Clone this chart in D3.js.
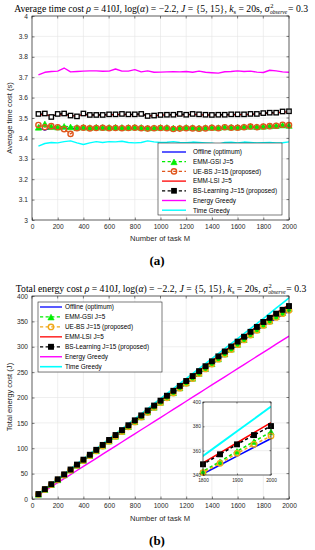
<!DOCTYPE html>
<html><head><meta charset="utf-8">
<script src="https://cdn.jsdelivr.net/npm/d3@7"></script>
<style>body{margin:0;background:#fff}svg{display:block}</style>
</head><body>
<svg id="c" width="315" height="550"></svg>
<script>
// ---------------- DATA ----------------
const taskM = [50,100,150,200,250,300,350,400,450,500,550,600,650,700,750,800,850,900,950,1000,
  1050,1100,1150,1200,1250,1300,1350,1400,1450,1500,1550,1600,1650,1700,1750,1800,1850,1900,1950,2000];
const seriesNames = ["Offline (optimum)","EMM-GSI J=5","UE-BS J=15 (proposed)","EMM-LSI J=5",
  "BS-Learning J=15 (proposed)","Energy Greedy","Time Greedy"];

// (a) average time cost (s)
const timeOffline = [3.452,3.44,3.452,3.45,3.448,3.45,3.447,3.449,3.447,3.45,3.449,3.448,3.449,3.448,3.449,3.45,3.449,3.447,3.447,3.448,
  3.449,3.445,3.447,3.448,3.448,3.446,3.448,3.449,3.449,3.452,3.45,3.451,3.452,3.455,3.453,3.455,3.457,3.458,3.46,3.46];
const timeEmmGsi = [3.455,3.472,3.458,3.456,3.46,3.457,3.455,3.456,3.454,3.456,3.455,3.455,3.456,3.455,3.455,3.456,3.455,3.452,3.453,3.455,
  3.455,3.452,3.453,3.455,3.454,3.452,3.454,3.455,3.454,3.457,3.456,3.456,3.458,3.46,3.458,3.46,3.462,3.463,3.466,3.464];
const timeUeBs = [3.466,3.455,3.46,3.455,3.445,3.422,3.45,3.452,3.449,3.451,3.452,3.45,3.451,3.45,3.451,3.452,3.45,3.448,3.45,3.451,
  3.45,3.446,3.448,3.45,3.449,3.447,3.449,3.452,3.45,3.455,3.452,3.452,3.455,3.458,3.455,3.458,3.46,3.462,3.467,3.465];
const timeEmmLsi = [3.517,3.516,3.51,3.515,3.517,3.512,3.51,3.516,3.514,3.515,3.514,3.516,3.517,3.518,3.516,3.517,3.518,3.512,3.511,3.514,
  3.515,3.515,3.517,3.515,3.518,3.516,3.515,3.514,3.515,3.515,3.516,3.517,3.517,3.518,3.519,3.522,3.524,3.525,3.529,3.53];
const timeBsLearning = [3.52,3.522,3.505,3.52,3.522,3.512,3.508,3.522,3.515,3.515,3.515,3.518,3.518,3.52,3.518,3.518,3.52,3.51,3.512,3.515,
  3.516,3.516,3.52,3.516,3.52,3.518,3.516,3.515,3.516,3.516,3.518,3.518,3.518,3.52,3.52,3.524,3.526,3.526,3.532,3.533];
const timeEnergyGreedy = [3.711,3.724,3.728,3.73,3.745,3.726,3.728,3.73,3.731,3.731,3.729,3.73,3.74,3.73,3.73,3.737,3.726,3.731,3.724,3.725,
  3.726,3.727,3.726,3.728,3.724,3.73,3.724,3.722,3.72,3.727,3.728,3.731,3.728,3.73,3.725,3.723,3.734,3.731,3.726,3.724];
const timeTimeGreedy = [3.362,3.375,3.38,3.378,3.384,3.388,3.378,3.37,3.378,3.384,3.38,3.384,3.383,3.386,3.38,3.378,3.38,3.388,3.383,3.38,
  3.381,3.384,3.38,3.379,3.382,3.38,3.378,3.376,3.372,3.38,3.381,3.378,3.382,3.38,3.378,3.379,3.38,3.378,3.379,3.383];
const timeXTicks = [0,200,400,600,800,1000,1200,1400,1600,1800,2000];
const timeYTicks = [3,3.1,3.2,3.3,3.4,3.5,3.6,3.7,3.8,3.9,4];

// (b) total energy cost (J)
const energyOffline = [9.2,18.7,28.2,37.6,47.1,56.6,66.1,75.6,85.0,94.5,104.0,113.5,123.0,132.4,141.9,151.4,160.9,170.4,179.8,189.3,
  198.8,208.3,217.8,227.2,236.7,246.2,255.7,265.2,274.6,284.1,293.6,303.1,312.6,322.0,331.5,341.0,348.2,355.5,362.8,370.0];
const energyEmmGsi = [9.4,18.9,28.5,38.0,47.5,57.1,66.6,76.1,85.6,95.2,104.7,114.2,123.8,133.3,142.8,152.4,161.9,171.4,180.9,190.5,
  200.0,209.5,219.1,228.6,238.1,247.7,257.2,266.7,276.2,285.8,295.3,304.8,314.4,323.9,333.4,343.0,351.0,359.5,367.5,375.5];
const energyUeBs = [9.3,18.8,28.3,37.8,47.3,56.8,66.3,75.8,85.3,94.9,104.4,113.9,123.4,132.9,142.4,151.9,161.4,170.9,180.4,189.9,
  199.4,208.9,218.4,227.9,237.4,246.9,256.4,266.0,275.5,285.0,294.5,304.0,313.5,323.0,332.5,342.0,349.6,357.8,365.2,372.0];
const energyEmmLsi = [9.8,19.5,29.2,39.0,48.7,58.4,68.1,77.8,87.6,97.3,107.0,116.7,126.4,136.2,145.9,155.6,165.3,175.0,184.8,194.5,
  204.2,213.9,223.6,233.4,243.1,252.8,262.5,272.2,282.0,291.7,301.4,311.1,320.8,330.6,340.3,350.0,358.2,366.5,374.8,383.0];
const energyBsLearning = [9.7,19.4,29.1,38.8,48.5,58.1,67.8,77.5,87.2,96.9,106.6,116.3,126.0,135.7,145.3,155.0,164.7,174.4,184.1,193.8,
  203.5,213.2,222.9,232.5,242.2,251.9,261.6,271.3,281.0,290.7,300.4,310.1,319.7,329.4,339.1,348.8,357.0,365.2,372.8,380.2];
const energyEnergyGreedy = [8.0,16.0,24.1,32.1,40.1,48.1,56.2,64.2,72.2,80.2,88.3,96.3,104.3,112.3,120.4,128.4,136.4,144.4,152.5,160.5,
  168.5,176.5,184.6,192.6,200.6,208.7,216.7,224.7,232.7,240.8,248.8,256.8,264.8,272.9,280.9,288.9,296.9,305.0,313.0,321.0];
const energyTimeGreedy = [9.9,19.8,29.7,39.5,49.4,59.3,69.2,79.0,88.9,98.8,108.7,118.5,128.4,138.3,148.2,158.1,167.9,177.8,187.7,197.6,
  207.4,217.3,227.2,237.1,246.9,256.8,266.7,276.6,286.4,296.3,306.2,316.1,326.0,335.8,345.7,355.6,365.8,375.9,386.0,396.2];
const energyXTicks = [0,200,400,600,800,1000,1200,1400,1600,1800,2000];
const energyYTicks = [0,50,100,150,200,250,300,350,400];
const insetXTicks = [1800,1900,2000];
const insetYTicks = [340,360,380,400];

// ---------------- DRAWING ----------------
const SANS = "'Liberation Sans', Arial, Helvetica, sans-serif";
const SERIF = "'Liberation Serif', 'Times New Roman', serif";
const AX = "#262626";
const svg = d3.select("#c");

function drawMarker(g, type, cx, cy, st) {
  if (type === "tri") {
    const s = st.ms;
    g.append("path").attr("d", `M0,${-s}L${s*0.95},${s*0.72}L${-s*0.95},${s*0.72}Z`).attr("transform", `translate(${cx},${cy+0.6})`)
      .attr("fill", st.mf).attr("stroke", st.mc).attr("stroke-width", 0.6);
  } else if (type === "circ") {
    g.append("circle").attr("cx", cx).attr("cy", cy).attr("r", st.ms)
      .attr("fill", st.mf).attr("stroke", st.mc).attr("stroke-width", 1.4);
  } else if (type === "sq") {
    const s = st.ms;
    g.append("rect").attr("x", cx - s/2).attr("y", cy - s/2).attr("width", s).attr("height", s)
      .attr("fill", st.mf).attr("stroke", st.mc).attr("stroke-width", 1.3);
  }
}

function panel(o) {
  const g = svg.append("g");
  const x = d3.scaleLinear().domain(o.xd).range([o.l, o.r]);
  const y = d3.scaleLinear().domain(o.yd).range([o.b, o.t]);
  g.append("rect").attr("x", o.l).attr("y", o.t).attr("width", o.r - o.l).attr("height", o.b - o.t).attr("fill", "#fff");
  const grid = g.append("g").attr("stroke", "#e4e4e4").attr("stroke-width", 0.6);
  o.xTicks.forEach(v => grid.append("line").attr("x1", x(v)).attr("x2", x(v)).attr("y1", o.t).attr("y2", o.b));
  o.yTicks.forEach(v => grid.append("line").attr("y1", y(v)).attr("y2", y(v)).attr("x1", o.l).attr("x2", o.r));
  const cid = "clip" + o.id;
  g.append("clipPath").attr("id", cid).append("rect").attr("x", o.l).attr("y", o.t - 1)
    .attr("width", o.r - o.l).attr("height", o.b - o.t + 1);
  const pg = g.append("g").attr("clip-path", `url(#${cid})`);
  const mg = g.append("g");
  o.series.forEach(s => {
    const line = d3.line().x((d, i) => x(taskM[i])).y(d => y(d));
    pg.append("path").datum(s.v).attr("d", line).attr("fill", "none").attr("stroke", s.c)
      .attr("stroke-width", s.w * (o.lw || 1)).attr("stroke-dasharray", s.dash ? "3.2,2.4" : null).attr("stroke-linejoin", "round");
    if (s.m) {
      const msub = mg.append("g");
      s.v.forEach((d, i) => {
        if (taskM[i] < o.xd[0] || taskM[i] > o.xd[1]) return;
        drawMarker(msub, s.m, x(taskM[i]), y(d), s);
      });
    }
  });
  const fs = o.fs;
  const xa = g.append("g").attr("transform", `translate(0,${o.b})`)
    .call(d3.axisBottom(x).tickValues(o.xTicks).tickSize(-o.tk).tickPadding(o.xpad).tickFormat(d3.format("d")));
  const ya = g.append("g").attr("transform", `translate(${o.l},0)`)
    .call(d3.axisLeft(y).tickValues(o.yTicks).tickSize(-o.tk).tickPadding(o.ypad).tickFormat(d => String(d)));
  [xa, ya].forEach(a => {
    a.select(".domain").remove();
    a.selectAll("line").attr("stroke", AX).attr("stroke-width", 0.6);
    a.selectAll("text").attr("fill", AX).attr("font-family", SANS).attr("font-size", fs);
  });
  o.xTicks.forEach(v => g.append("line").attr("x1", x(v)).attr("x2", x(v)).attr("y1", o.t).attr("y2", o.t + o.tk).attr("stroke", AX).attr("stroke-width", 0.6));
  o.yTicks.forEach(v => g.append("line").attr("y1", y(v)).attr("y2", y(v)).attr("x1", o.r).attr("x2", o.r - o.tk).attr("stroke", AX).attr("stroke-width", 0.6));
  g.append("rect").attr("x", o.l).attr("y", o.t).attr("width", o.r - o.l).attr("height", o.b - o.t)
    .attr("fill", "none").attr("stroke", AX).attr("stroke-width", 0.7);
  return g;
}

function legend(o, series) {
  const g = svg.append("g");
  g.append("rect").attr("x", o.x0).attr("y", o.y0).attr("width", o.x1 - o.x0).attr("height", o.y1 - o.y0)
    .attr("fill", "#fff").attr("stroke", AX).attr("stroke-width", 0.6);
  series.forEach((s, i) => {
    const yy = o.yStart + i * o.step;
    g.append("line").attr("x1", o.lx0).attr("x2", o.lx1).attr("y1", yy).attr("y2", yy)
      .attr("stroke", s.c).attr("stroke-width", s.w).attr("stroke-dasharray", s.dash ? "3.2,2.4" : null);
    if (s.m) drawMarker(g, s.m, (o.lx0 + o.lx1) / 2, yy, Object.assign({}, s, s.m === "sq" ? { mf: "#000" } : {}));
    g.append("text").attr("x", o.tx).attr("y", yy + 2.3).attr("font-family", SANS).attr("font-size", o.fs)
      .attr("fill", "#000").text(seriesNames[i]);
  });
}

function title(yb, text0) {
  const fs = 9.7;
  const t = svg.append("text").attr("y", yb).attr("font-family", SERIF).attr("font-size", fs).attr("fill", "#000");
  t.append("tspan").text(text0 + " ");
  t.append("tspan").attr("font-style", "italic").text("ρ");
  t.append("tspan").text(" = 410J, log(");
  t.append("tspan").attr("font-style", "italic").text("α");
  t.append("tspan").text(") = −2.2, ");
  t.append("tspan").attr("font-style", "italic").text("J");
  t.append("tspan").text(" = {5, 15}, ");
  t.append("tspan").attr("font-style", "italic").text("k");
  t.append("tspan").attr("font-size", 6.4).attr("dy", 1.8).text("s");
  t.append("tspan").attr("dy", -1.8).text(" = 20s, ");
  t.append("tspan").attr("font-style", "italic").text("σ");
  const w1 = t.node().getComputedTextLength();
  const sup = svg.append("text").attr("y", yb - 3.6).attr("font-family", SERIF).attr("font-size", 6.4).text("2");
  const sub = svg.append("text").attr("y", yb + 2.3).attr("font-family", SERIF).attr("font-size", 5.6)
    .attr("font-style", "italic").text("observe");
  const ws = sub.node().getComputedTextLength();
  const tail = svg.append("text").attr("y", yb).attr("font-family", SERIF).attr("font-size", fs).text(" = 0.3");
  const wt = tail.node().getComputedTextLength();
  const total = w1 + ws + 1 + wt;
  const x0 = 161 - total / 2;
  t.attr("x", x0);
  sup.attr("x", x0 + w1 + 0.8);
  sub.attr("x", x0 + w1 + 0.5);
  tail.attr("x", x0 + w1 + ws + 1.2);
}

const styleA = [
  { v: timeOffline, c: "#0000ff", w: 1.3 },
  { v: timeEmmGsi, c: "#00ee00", w: 1.3, dash: true, m: "tri", ms: 3.3, mf: "#00ee00", mc: "#00ee00" },
  { v: timeUeBs, c: "#e0561c", w: 1.3, dash: true, m: "circ", ms: 2.6, mf: "none", mc: "#e0561c" },
  { v: timeEmmLsi, c: "#ff0000", w: 1.3 },
  { v: timeBsLearning, c: "#000", w: 1.3, dash: true, m: "sq", ms: 4.4, mf: "#fff", mc: "#000" },
  { v: timeEnergyGreedy, c: "#ff00ff", w: 1.4 },
  { v: timeTimeGreedy, c: "#00ffff", w: 1.4 }
];
const styleB = [
  { v: energyOffline, c: "#0000ff", w: 1.3 },
  { v: energyEmmGsi, c: "#00ee00", w: 1.3, dash: true, m: "tri", ms: 3.3, mf: "#00ee00", mc: "#00ee00" },
  { v: energyUeBs, c: "#f0a818", w: 1.3, dash: true, m: "circ", ms: 2.7, mf: "none", mc: "#f0a818" },
  { v: energyEmmLsi, c: "#ff0000", w: 1.3 },
  { v: energyBsLearning, c: "#000", w: 1.3, dash: true, m: "sq", ms: 4.6, mf: "#000", mc: "#000" },
  { v: energyEnergyGreedy, c: "#ff00ff", w: 1.4 },
  { v: energyTimeGreedy, c: "#00ffff", w: 1.6 }
];

// ---- panel (a)
title(12, "Average time cost");
panel({ id: "a", l: 32, r: 289, t: 16, b: 220, xd: [0, 2000], yd: [3, 4], xTicks: timeXTicks, yTicks: timeYTicks,
  series: styleA, fs: 6.6, tk: 2.5, xpad: 4, ypad: 4 });
legend({ x0: 158, x1: 282, y0: 143, y1: 215, yStart: 152, step: 9.7, lx0: 162, lx1: 186, tx: 193, fs: 6.4 }, styleA);
svg.append("text").attr("x", 160).attr("y", 241).attr("text-anchor", "middle").attr("font-family", SANS)
  .attr("font-size", 7.6).attr("fill", AX).text("Number of task M");
svg.append("text").attr("transform", "translate(12,118) rotate(-90)").attr("text-anchor", "middle")
  .attr("font-family", SANS).attr("font-size", 7.6).attr("fill", AX).text("Average time cost (s)");
svg.append("text").attr("x", 157).attr("y", 265).attr("text-anchor", "middle").attr("font-family", SERIF)
  .attr("font-size", 13).attr("font-weight", "bold").text("(a)");

// ---- panel (b)
title(292, "Total energy cost");
panel({ id: "b", l: 32, r: 289, t: 296, b: 499, xd: [0, 2000], yd: [0, 400], xTicks: energyXTicks, yTicks: energyYTicks,
  series: styleB, fs: 6.6, tk: 2.5, xpad: 4, ypad: 4 });
legend({ x0: 38, x1: 162, y0: 302, y1: 372, yStart: 307, step: 9.95, lx0: 40, lx1: 62, tx: 65, fs: 6.4 }, styleB);
panel({ id: "i", l: 203, r: 271, t: 402, b: 475, xd: [1800, 2000], yd: [340, 400], xTicks: insetXTicks, yTicks: insetYTicks,
  series: styleB, fs: 4.8, tk: 1.5, xpad: 3.2, ypad: 2.2, lw: 1.2 });
svg.append("text").attr("x", 160).attr("y", 521).attr("text-anchor", "middle").attr("font-family", SANS)
  .attr("font-size", 7.6).attr("fill", AX).text("Number of task M");
svg.append("text").attr("transform", "translate(12,397) rotate(-90)").attr("text-anchor", "middle")
  .attr("font-family", SANS).attr("font-size", 7.6).attr("fill", AX).text("Total energy cost (J)");
svg.append("text").attr("x", 157).attr("y", 545).attr("text-anchor", "middle").attr("font-family", SERIF)
  .attr("font-size", 13).attr("font-weight", "bold").text("(b)");
</script>
</body></html>
